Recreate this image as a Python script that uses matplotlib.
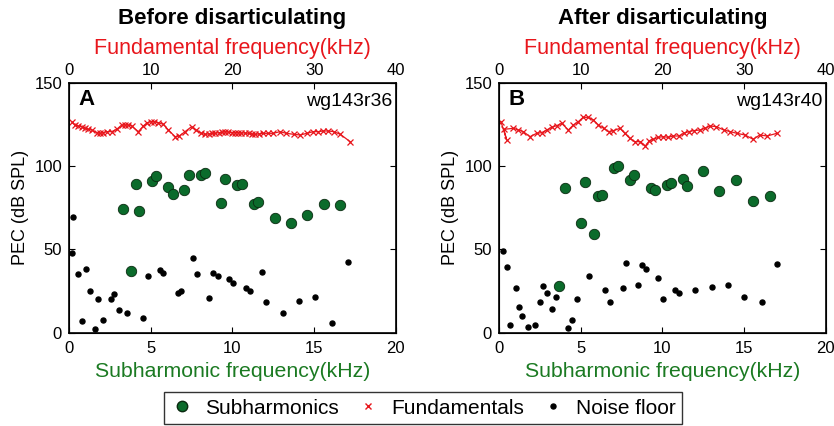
import matplotlib
matplotlib.use("Agg")
import matplotlib.pyplot as plt
from matplotlib.lines import Line2D

plt.rcParams['font.family'] = ['Liberation Sans', 'DejaVu Sans']

# Panel A (wg143r36) - before disarticulating
sub_f_a = [3.29, 4.10, 4.29, 5.08, 5.33, 6.04, 6.35, 7.06, 7.33, 8.10, 8.31, 9.33,
           9.57, 10.29, 10.57, 11.33, 11.57, 12.59, 13.57, 14.55, 15.59, 16.59, 3.78]
sub_db_a = [74.2, 89.4, 73.0, 91.2, 94.0, 87.6, 83.2, 85.8, 94.6, 94.8, 95.8, 78.0,
            92.4, 88.4, 89.4, 77.2, 78.4, 68.8, 65.6, 70.4, 77.0, 76.6, 37.0]
noise_f_a = [0.22, 0.16, 0.55, 1.04, 1.29, 0.80, 1.57, 1.80, 2.06, 2.55, 2.78, 3.08,
             3.57, 4.55, 4.86, 5.57, 5.78, 6.69, 6.84, 7.57, 7.82, 8.57, 8.80, 9.10,
             9.80, 10.04, 10.80, 11.08, 11.80, 12.04, 13.08, 14.06, 15.04, 16.08, 17.06]
noise_db_a = [69.4, 47.6, 35.0, 38.2, 25.0, 7.2, 2.4, 20.2, 7.8, 20.2, 23.0, 13.6,
              12.0, 9.0, 34.2, 37.8, 36.0, 24.0, 25.2, 44.6, 35.4, 20.8, 35.8, 34.0,
              32.2, 30.0, 26.8, 25.0, 36.2, 18.4, 12.0, 19.0, 21.6, 5.6, 42.6]
fund_f_a = [0.33, 0.73, 1.14, 1.55, 1.96, 2.37, 2.78, 3.39, 3.80, 4.20, 4.61, 5.22,
            5.84, 6.45, 6.86, 7.27, 7.67, 8.49, 9.10, 9.59, 10.0, 10.4, 10.9, 11.55,
            12.16, 12.98, 13.5, 14.2, 15.0, 15.6, 16.2, 16.6, 17.1, 17.5, 17.9, 18.3,
            18.7, 19.1, 19.5, 19.9, 20.3, 20.7, 21.1, 21.5, 22.0, 22.4, 22.8, 23.2,
            23.8, 24.4, 25.0, 25.8, 26.6, 27.5, 28.3, 29.1, 29.9, 30.5, 31.1, 31.7,
            32.4, 33.2, 34.4]
fund_db_a = [126.6, 124.6, 124.0, 123.6, 122.6, 122.0, 121.6, 120.0, 119.6, 120.0,
             120.6, 120.6, 122.0, 124.6, 124.6, 124.6, 124.0, 120.6, 124.0, 126.0,
             126.6, 126.6, 126.0, 125.0, 121.6, 117.6, 118.0, 120.6, 123.6, 121.4,
             119.6, 119.0, 119.2, 119.6, 119.6, 120.0, 120.2, 120.6, 120.4, 120.0,
             120.0, 120.0, 119.8, 119.8, 119.6, 119.2, 119.0, 119.2, 119.6, 119.6,
             119.6, 120.6, 119.6, 119.0, 118.6, 119.6, 120.6, 120.6, 121.0, 121.0,
             120.6, 119.0, 114.6]

# Panel B (wg143r40) - after disarticulating
sub_f_b = [4.06, 5.02, 5.29, 5.80, 6.04, 6.31, 7.06, 7.29, 8.02, 8.27, 9.29, 9.53,
           10.27, 10.53, 11.27, 11.53, 12.51, 13.49, 14.51, 15.55, 16.55, 3.67]
sub_db_b = [86.8, 66.0, 90.4, 59.4, 82.0, 82.6, 99.0, 100.0, 91.8, 94.8, 86.8, 85.8,
            88.8, 89.8, 92.4, 88.0, 96.8, 85.2, 91.6, 78.8, 82.0, 28.2]
noise_f_b = [0.27, 0.49, 0.67, 1.02, 1.22, 1.43, 1.78, 2.22, 2.51, 2.71, 2.96, 3.24,
             3.49, 4.22, 4.45, 4.78, 5.51, 6.51, 6.82, 7.57, 7.76, 8.53, 8.76, 8.98,
             9.73, 10.02, 10.78, 11.02, 11.98, 13.02, 14.0, 14.98, 16.06, 17.02]
noise_db_b = [48.8, 39.6, 4.6, 26.6, 15.2, 10.0, 3.6, 4.6, 18.4, 27.8, 23.6, 14.0,
              21.4, 2.6, 7.8, 20.4, 34.2, 25.6, 18.4, 26.6, 42.0, 28.8, 40.4, 38.2,
              33.0, 20.4, 25.6, 23.6, 25.6, 27.6, 28.8, 21.4, 18.4, 41.4]
fund_f_b = [0.24, 0.94, 0.6, 1.76, 2.37, 2.98, 3.80, 4.61, 5.22, 5.84, 6.45, 7.06,
            7.67, 8.49, 9.10, 9.71, 10.3, 10.9, 11.55, 12.16, 12.8, 13.4, 14.0, 14.8,
            15.4, 16.0, 16.6, 17.3, 17.9, 18.4, 18.9, 19.5, 20.1, 20.7, 21.3, 22.0,
            22.6, 23.2, 23.8, 24.6, 25.2, 25.8, 26.6, 27.5, 28.3, 29.1, 30.1, 31.1,
            31.9, 32.8, 34.0]
fund_db_b = [126.6, 115.6, 122.0, 122.6, 121.6, 120.6, 117.6, 119.6, 120.0, 121.6,
             123.2, 124.2, 125.6, 121.6, 124.6, 126.6, 129.2, 129.2, 127.6, 124.6,
             122.6, 120.6, 121.2, 122.6, 119.6, 116.6, 114.6, 114.6, 112.0, 115.2,
             116.0, 117.2, 117.6, 117.2, 118.0, 118.0, 119.6, 120.6, 121.2, 121.6,
             122.6, 124.0, 123.6, 121.6, 120.6, 119.6, 118.6, 116.0, 118.6, 118.0,
             119.6]

RED = '#e8161c'
GREEN_FILL = '#0b6b2b'
GREEN_TXT = '#1b7a22'

fig = plt.figure(figsize=(8.34, 4.26), dpi=100)

panels = [
    (0.0827, 'A', 'wg143r36', 'Before disarticulating',
     sub_f_a, sub_db_a, noise_f_a, noise_db_a, fund_f_a, fund_db_a),
    (0.5983, 'B', 'wg143r40', 'After disarticulating',
     sub_f_b, sub_db_b, noise_f_b, noise_db_b, fund_f_b, fund_db_b),
]

for left, letter, tag, title, sf, sd, nf, nd, ff, fd in panels:
    ax = fig.add_axes([left, 0.219, 0.392, 0.587])
    ax.plot(nf, nd, 'o', color='black', markersize=3.6, zorder=3)
    ax.plot(sf, sd, 'o', markerfacecolor=GREEN_FILL, markeredgecolor='#0a2a10',
            markeredgewidth=0.6, markersize=7.5, zorder=4)
    ax.set_xlim(0, 20)
    ax.set_ylim(0, 150)
    ax.set_xticks([0, 5, 10, 15, 20])
    ax.set_yticks([0, 50, 100, 150])
    ax.tick_params(direction='in', labelsize=12, length=4, right=True, pad=5)
    ax.tick_params(axis='x', pad=6)
    ax.set_xlabel('Subharmonic frequency(kHz)', color=GREEN_TXT, fontsize=15.3, labelpad=4)
    ax.set_ylabel('PEC (dB SPL)', fontsize=13, labelpad=4)
    for s in ax.spines.values():
        s.set_linewidth(1.2)

    ax2 = ax.twiny()
    ax2.plot(ff, fd, '-x', color=RED, markersize=5, linewidth=0.9, markeredgewidth=0.9)
    ax2.set_xlim(0, 40)
    ax2.set_xticks([0, 10, 20, 30, 40])
    ax2.tick_params(direction='in', labelsize=12, length=4, pad=3)
    ax2.set_xlabel('Fundamental frequency(kHz)', color=RED, fontsize=15.5, labelpad=7)

    ax.text(0.03, 0.975, letter, transform=ax.transAxes, fontsize=16,
            fontweight='bold', va='top', ha='left')
    ax.text(0.99, 0.96, tag, transform=ax.transAxes, fontsize=14,
            va='top', ha='right')
    fig.text(left + 0.196, 0.957, title, fontsize=16, fontweight='bold',
             ha='center', va='center')

handles = [
    Line2D([], [], linestyle='none', marker='o', markerfacecolor=GREEN_FILL,
           markeredgecolor='#0a2a10', markersize=7.5),
    Line2D([], [], linestyle='none', marker='x', color=RED, markersize=5),
    Line2D([], [], linestyle='none', marker='o', color='black', markersize=3.6),
]
leg = fig.legend(handles, ['Subharmonics', 'Fundamentals', 'Noise floor'],
                 loc='center', bbox_to_anchor=(0.507, 0.042), ncol=3,
                 fontsize=15, frameon=True, fancybox=False, handletextpad=0.5,
                 columnspacing=0.8, borderpad=0.3, handlelength=1.2)
leg.get_frame().set_edgecolor('black')
leg.get_frame().set_linewidth(1.0)

fig.savefig('out.png', dpi=100)
